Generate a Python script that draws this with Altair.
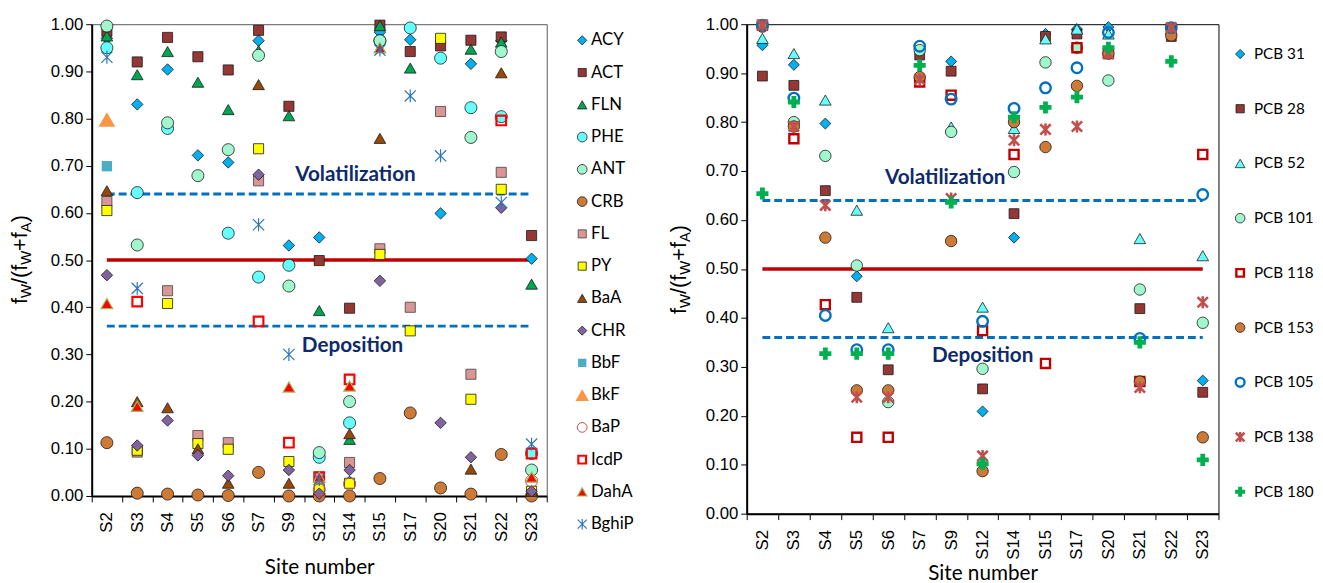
import altair as alt
import pandas as pd

sites = ["S2", "S3", "S4", "S5", "S6", "S7", "S9", "S12", "S14", "S15", "S17", "S20", "S21", "S22", "S23"]
N = None

# ---- PAH fractions (left panel), order of sites above; None = not visible
ACY   = [0.970, 0.830, 0.904, 0.722, 0.707, 0.965, 0.531, 0.548, 0.030, 0.983, 0.967, 0.599, 0.916, 0.965, 0.503]
ACT   = [0.985, 0.920, 0.972, 0.931, 0.903, 0.987, 0.826, 0.499, 0.398, 0.998, 0.942, 0.954, 0.966, 0.973, 0.552]
FLN   = [0.975, 0.893, 0.942, 0.877, 0.819, 0.944, 0.806, 0.393, 0.120, 0.997, 0.907, N,     0.947, 0.962, 0.449]
PHE   = [0.950, 0.643, 0.779, N,     0.557, 0.464, 0.489, 0.082, 0.155, 0.965, 0.992, 0.928, 0.823, 0.804, 0.090]
ANT   = [0.996, 0.532, 0.791, 0.679, 0.734, 0.934, 0.445, 0.092, 0.200, 0.965, N,     N,     0.760, 0.942, 0.055]
CRB   = [0.113, 0.006, 0.004, 0.002, 0.001, 0.050, 0.000, 0.000, 0.000, 0.037, 0.176, 0.017, 0.004, 0.088, 0.000]
FL    = [0.624, 0.093, 0.435, 0.128, 0.113, 0.668, N,     0.040, 0.071, 0.524, 0.400, 0.815, 0.258, 0.686, N]
PY    = [0.605, 0.097, 0.408, 0.111, 0.099, 0.736, 0.073, 0.015, 0.027, 0.512, 0.350, 0.970, 0.205, 0.650, 0.010]
BaA   = [0.647, 0.200, 0.187, 0.100, 0.027, 0.872, 0.027, N,     0.132, 0.758, N,     N,     0.057, 0.897, 0.010]
CHR   = [0.468, 0.107, 0.160, 0.086, 0.043, 0.681, 0.055, 0.005, 0.055, 0.456, N,     0.155, 0.082, 0.611, 0.010]
BbF   = [0.699, N, N, N, N, N, N, N, N, N, N, N, N, N, N]
BkF   = [0.798, N, N, N, N, N, N, N, N, N, N, N, N, N, N]
BaP   = [N, N, N, N, N, N, N, 0.013, 0.025, N, N, N, N, N, 0.032]
IcdP  = [N, 0.412, N, N, N, 0.370, 0.113, 0.040, 0.247, N, N, N, N, 0.796, 0.090]
DahA  = [0.408, 0.190, N, N, N, N, 0.231, 0.040, 0.233, 0.950, N, N, N, N, 0.040]
BghiP = [0.930, 0.440, N, N, N, 0.575, 0.300, 0.035, N, 0.945, 0.848, 0.721, N, 0.622, 0.110]

pah_names = ["ACY", "ACT", "FLN", "PHE", "ANT", "CRB", "FL", "PY", "BaA", "CHR",
             "BbF", "BkF", "BaP", "IcdP", "DahA", "BghiP"]
pah_values = [ACY, ACT, FLN, PHE, ANT, CRB, FL, PY, BaA, CHR, BbF, BkF, BaP, IcdP, DahA, BghiP]

# ---- PCB fractions (right panel)
PCB31  = [0.957, 0.917, 0.797, 0.485, N,     N,     0.924, 0.209, 0.564, 0.980, 0.990, 0.994, N,     0.990, 0.272]
PCB28  = [0.894, 0.875, 0.660, 0.442, 0.294, 0.937, 0.904, 0.255, 0.613, 0.975, 0.980, 0.940, 0.419, 0.975, 0.248]
PCB52  = [0.971, 0.940, 0.845, 0.620, 0.380, N,     0.790, 0.422, 0.787, 0.970, 0.990, 0.980, 0.562, N,     0.527]
PCB101 = [N,     0.800, 0.731, 0.507, 0.228, 0.947, 0.780, 0.296, 0.698, 0.922, 0.952, 0.885, 0.458, N,     0.390]
PCB118 = [0.998, 0.766, 0.427, 0.156, 0.156, 0.882, 0.855, 0.374, 0.734, 0.307, 0.952, 0.940, 0.270, 0.990, 0.734]
PCB153 = [0.995, 0.791, 0.564, 0.252, 0.252, 0.892, 0.557, 0.087, 0.800, 0.749, 0.874, 0.940, 0.270, 0.977, 0.156]
PCB105 = [0.998, 0.849, 0.405, 0.335, 0.335, 0.955, 0.847, 0.393, 0.828, 0.870, 0.911, 0.983, 0.358, 0.993, 0.652]
PCB138 = [0.998, 0.791, 0.630, 0.238, 0.238, 0.887, 0.644, 0.118, 0.763, 0.785, 0.791, 0.940, 0.258, 0.993, 0.432]
PCB180 = [0.654, 0.841, 0.327, 0.327, 0.327, 0.916, 0.636, 0.102, 0.810, 0.830, 0.851, 0.952, 0.350, 0.924, 0.110]

pcb_names = ["PCB 31", "PCB 28", "PCB 52", "PCB 101", "PCB 118", "PCB 153", "PCB 105", "PCB 138", "PCB 180"]
pcb_values = [PCB31, PCB28, PCB52, PCB101, PCB118, PCB153, PCB105, PCB138, PCB180]

# ---- marker styles
STAR = "M-1,-1L1,1M-1,1L1,-1M0,-1.15L0,1.15"
def filled(shape, fill, stroke="#1a1a1a", sw=0.8, size=130):
    return dict(shape=shape, filled=True, fill=fill, stroke=stroke, strokeWidth=sw, size=size)
def hollow(shape, stroke, sw, size):
    return dict(shape=shape, filled=False, stroke=stroke, strokeWidth=sw, size=size)

pah_style = {
    "ACY": filled("diamond", "#00B0F0", size=135),
    "ACT": filled("square", "#953735", size=105),
    "FLN": filled("triangle-up", "#00A651", size=140),
    "PHE": filled("circle", "#66FFFF", size=150),
    "ANT": filled("circle", "#A0F7CD", size=150),
    "CRB": filled("circle", "#CC7A35", size=150),
    "FL": filled("square", "#D99694", stroke="#404040", size=105),
    "PY": filled("square", "#FFFF00", size=105),
    "BaA": filled("triangle-up", "#984807", size=140),
    "CHR": filled("diamond", "#8064A2", size=135),
    "BbF": filled("square", "#4BACC6", stroke="#4BACC6", sw=0, size=110),
    "BkF": filled("triangle-up", "#F79646", stroke="#F79646", sw=0, size=290),
    "BaP": hollow("circle", "#C0504D", 1.0, 150),
    "IcdP": hollow("square", "#FF0000", 2.2, 95),
    "DahA": filled("triangle-up", "#FF0000", stroke="#9BBB59", sw=1.2, size=140),
    "BghiP": hollow(STAR, "#2E75B6", 1.2, 130),
}
pcb_style = {
    "PCB 31": filled("diamond", "#00B0F0", size=125),
    "PCB 28": filled("square", "#953735", size=100),
    "PCB 52": filled("triangle-up", "#66FFFF", size=140),
    "PCB 101": filled("circle", "#A0F7CD", size=135),
    "PCB 118": hollow("square", "#C00000", 2.4, 85),
    "PCB 153": filled("circle", "#CC7A35", size=135),
    "PCB 105": hollow("circle", "#0070C0", 2.4, 115),
    "PCB 138": hollow(STAR, "#C0504D", 2.6, 110),
    "PCB 180": dict(shape="cross", filled=True, fill="#00B050", stroke="#00B050", strokeWidth=0, size=150),
}


def long_df(names, arrays):
    rows = []
    for n, arr in zip(names, arrays):
        for s, v in zip(sites, arr):
            if v is not None:
                rows.append({"site": s, "series": n, "value": v})
    return pd.DataFrame(rows)


AXFONT = "Liberation Sans"
TXFONT = "Lato"
NAVY = "#0D2A6B"
one = pd.DataFrame({"k": [0]})

# widths of y-title pieces (Liberation Sans advance widths)
title_pieces = [("f", False, 0.278), ("W", True, 0.944), ("/(f", False, 0.889),
                ("W", True, 0.944), ("+f", False, 0.862), ("A", True, 0.667), (")", False, 0.333)]
MAIN_FS, SUB_FS = 22, 15


def panel(names, arrays, styles, width, height, frame, ytitle_x, ytitle_cy,
          vol_site, vol_dx, vol_y, dep_site, dep_dx, dep_y, xtitle_pad):
    df = long_df(names, arrays)
    xscale = alt.Scale(domain=sites, paddingInner=0, paddingOuter=0)
    yscale = alt.Scale(domain=[0, 1], nice=False)
    xaxis = alt.Axis(title="Site number", labelAngle=270, tickBand="extent", labelPadding=10,
                     tickSize=6, titlePadding=xtitle_pad)
    yaxis = alt.Axis(values=[round(i * 0.1, 1) for i in range(11)], format=".2f", grid=False,
                     tickSize=6, labelPadding=3)
    layers = []
    # reference lines
    for v, col, dash, sw in [(0.5, "#C00000", None, 3.5), (0.64, "#0070C0", [8, 4], 3), (0.36, "#0070C0", [8, 4], 3)]:
        kw = dict(color=col, strokeWidth=sw)
        if dash:
            kw["strokeDash"] = dash
        layers.append(alt.Chart(one).mark_rule(**kw).encode(
            x=alt.XDatum("S2", type="nominal", scale=xscale, axis=xaxis),
            x2=alt.X2Datum("S23"),
            y=alt.YDatum(v, type="quantitative", scale=yscale, axis=yaxis, title=None)))
    # annotations
    for txt, s, dx, yv in [("Volatilization", vol_site, vol_dx, vol_y), ("Deposition", dep_site, dep_dx, dep_y)]:
        layers.append(alt.Chart(one).mark_text(text=txt, font=TXFONT, fontWeight="bold", fontSize=21,
                                               color=NAVY, dx=dx, baseline="middle").encode(
            x=alt.XDatum(s, type="nominal", scale=xscale, axis=xaxis),
            y=alt.YDatum(yv, type="quantitative", scale=yscale, axis=yaxis, title=None)))
    # series
    for n in names:
        st = dict(styles[n])
        layers.append(alt.Chart(df).transform_filter(alt.datum.series == n).mark_point(opacity=1, **st).encode(
            x=alt.X("site:N", scale=xscale, axis=xaxis, title="Site number"),
            y=alt.Y("value:Q", scale=yscale, axis=yaxis, title=None)))
    # y-axis title f_W/(f_W+f_A) built from pieces
    total = sum((SUB_FS if sub else MAIN_FS) * w for _, sub, w in title_pieces)
    ypos = ytitle_cy + total / 2
    for txt, sub, w in title_pieces:
        fs = SUB_FS if sub else MAIN_FS
        layers.append(alt.Chart(one).mark_text(text=txt, font=AXFONT, fontSize=fs, color="black", angle=270,
                                               align="left", baseline="alphabetic").encode(
            x=alt.value(ytitle_x + (4 if sub else 0)), y=alt.value(ypos)))
        ypos -= fs * w
    return alt.layer(*layers).properties(
        width=width, height=height, view=alt.ViewBackground(stroke=frame, strokeWidth=1))


def legend(names, styles, width, height, pad, xs, xt, fs, shrink):
    ldf = pd.DataFrame({"series": names})
    y = alt.Y("series:N", scale=alt.Scale(type="point", domain=names, padding=pad), axis=None)
    layers = []
    for n in names:
        st = dict(styles[n])
        st["size"] = st["size"] * shrink
        layers.append(alt.Chart(ldf).transform_filter(alt.datum.series == n).mark_point(opacity=1, **st).encode(
            x=alt.value(xs), y=y))
    layers.append(alt.Chart(ldf).mark_text(align="left", baseline="middle", font=TXFONT, fontSize=fs,
                                           color="black").encode(x=alt.value(xt), y=y, text="series:N"))
    return alt.layer(*layers).properties(width=width, height=height,
                                         view=alt.ViewBackground(stroke="transparent"))


left_panel = panel(pah_names, pah_values, pah_style, 462, 479, "#595959", -66, 239,
                   "S14", 6, 0.68, "S14", 3, 0.318, 15)
left_legend = legend(pah_names, pah_style, 70, 524, 0.5, 20, 29, 17, 0.65)
right_panel = panel(pcb_names, pcb_values, pcb_style, 479, 497, "#000000", -62, 249,
                    "S9", -6, 0.685, "S12", 0, 0.323, 4)
right_legend = legend(pcb_names, pcb_style, 60, 505, 0.545, 8, 22, 15.5, 0.7)

left_block = alt.hconcat(left_panel, left_legend, spacing=14)
right_block = alt.hconcat(right_panel, right_legend, spacing=10)

chart = alt.hconcat(left_block, right_block, spacing=33).properties(
    padding={"left": 0, "top": 1, "right": 0, "bottom": 0}, background="white"
).configure_axis(
    labelFont=AXFONT, labelFontSize=17, labelColor="black",
    titleFont=TXFONT, titleFontSize=21, titleFontWeight="normal", titleColor="black",
    domainColor="black", domainWidth=2, tickColor="black", tickWidth=1
)

chart.save("out.html", embed_options={"renderer": "svg", "actions": False})
